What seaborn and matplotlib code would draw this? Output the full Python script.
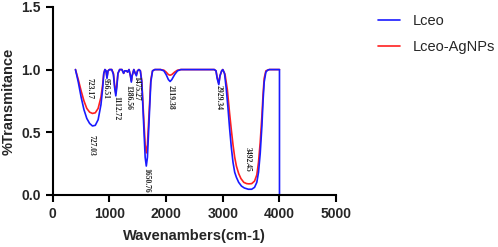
import pandas as pd
import matplotlib
matplotlib.use("Agg")
import matplotlib.pyplot as plt
import seaborn as sns

# FTIR spectra (wavenumber, %T)
wn_lceo = [400, 450, 500, 550, 600, 650, 700, 750, 800, 850, 880, 900, 920, 940, 956, 975,
           1000, 1040, 1070, 1090, 1112, 1130, 1150, 1180, 1220, 1250, 1270, 1300, 1320, 1345,
           1370, 1386, 1400, 1430, 1455, 1475, 1495, 1520, 1545, 1570, 1600, 1630, 1650, 1670,
           1700, 1730, 1760, 1800, 1900, 1960, 2000, 2040, 2070, 2100, 2150, 2200, 2260, 2850,
           2880, 2900, 2929, 2950, 2980, 3000, 3030, 3060, 3090, 3120, 3150, 3180, 3210, 3240,
           3280, 3330, 3380, 3450, 3510, 3560, 3600, 3630, 3660, 3690, 3710, 3730, 3760, 3790,
           3820, 4000, 4000]
t_lceo = [1.0, 0.90, 0.78, 0.68, 0.61, 0.57, 0.55, 0.555, 0.60, 0.72, 0.85, 0.97, 1.0, 0.99, 0.93, 0.99,
          1.0, 1.0, 0.96, 0.86, 0.79, 0.86, 0.97, 1.0, 1.0, 0.97, 0.99, 0.99, 0.98, 1.0,
          0.95, 0.90, 0.95, 1.0, 0.97, 0.95, 0.99, 1.0, 0.99, 0.90, 0.60, 0.30, 0.23, 0.30,
          0.60, 0.90, 0.99, 1.0, 1.0, 0.99, 0.96, 0.92, 0.905, 0.92, 0.96, 0.99, 1.0, 1.0,
          0.99, 0.93, 0.88, 0.95, 0.99, 1.0, 0.97, 0.85, 0.70, 0.53, 0.38, 0.26, 0.18, 0.14,
          0.10, 0.07, 0.055, 0.045, 0.045, 0.06, 0.10, 0.18, 0.33, 0.55, 0.75, 0.90, 0.98, 0.995,
          1.0, 1.0, 0.0]

wn_agnp = [400, 450, 500, 550, 600, 650, 700, 750, 800, 850, 880, 900, 920, 940, 956, 975,
           1000, 1040, 1070, 1090, 1112, 1130, 1150, 1180, 1220, 1250, 1270, 1300, 1320, 1345,
           1370, 1386, 1400, 1430, 1455, 1475, 1495, 1520, 1545, 1570, 1600, 1630, 1650, 1670,
           1700, 1730, 1760, 1800, 1900, 1960, 2000, 2040, 2070, 2100, 2150, 2200, 2260, 2850,
           2880, 2900, 2929, 2950, 2980, 3000, 3040, 3080, 3120, 3150, 3180, 3210, 3240, 3280,
           3320, 3370, 3420, 3460, 3510, 3560, 3600, 3630, 3660, 3690, 3710, 3730, 3760, 3790,
           3820, 4000]
t_agnp = [1.0, 0.92, 0.83, 0.75, 0.69, 0.66, 0.65, 0.655, 0.69, 0.78, 0.88, 0.97, 1.0, 0.99, 0.94, 0.99,
          1.0, 1.0, 0.97, 0.88, 0.81, 0.88, 0.97, 1.0, 1.0, 0.97, 0.99, 0.99, 0.98, 1.0,
          0.95, 0.91, 0.95, 1.0, 0.97, 0.96, 0.99, 1.0, 0.99, 0.91, 0.65, 0.40, 0.335, 0.40,
          0.66, 0.92, 0.99, 1.0, 1.0, 0.995, 0.98, 0.96, 0.955, 0.96, 0.98, 0.995, 1.0, 1.0,
          0.99, 0.94, 0.89, 0.95, 0.99, 1.0, 0.96, 0.84, 0.65, 0.52, 0.40, 0.30, 0.23, 0.17,
          0.13, 0.10, 0.09, 0.088, 0.09, 0.11, 0.16, 0.26, 0.42, 0.63, 0.80, 0.93, 0.99, 0.995,
          1.0, 1.0]

# peak labels: text, x position, top y
peak_txt = ["723.17", "727.03", "956.51", "1112.72", "1386.56", "1475.27",
            "1650.76", "2119.38", "2929.34", "3492.45"]
peak_x = [643, 690, 938, 1127, 1333, 1469, 1646, 2071, 2920, 3446]
peak_y = [0.93, 0.48, 0.93, 0.786, 0.88, 0.95, 0.216, 0.88, 0.88, 0.38]

df = pd.concat([
    pd.DataFrame({"wn": wn_agnp, "T": t_agnp, "sample": "Lceo-AgNPs"}),
    pd.DataFrame({"wn": wn_lceo, "T": t_lceo, "sample": "Lceo"}),
])

sns.set_style("ticks")
plt.rcParams["font.family"] = ["Liberation Sans", "DejaVu Sans"]

fig = plt.figure(figsize=(4.98, 2.47), dpi=100)
ax = fig.add_axes([0.106, 0.211, 0.569, 0.761])

sns.lineplot(data=df, x="wn", y="T", hue="sample", hue_order=["Lceo-AgNPs", "Lceo"],
             palette={"Lceo": "#1a1aff", "Lceo-AgNPs": "#ff2020"},
             estimator=None, sort=False, linewidth=1.2, ax=ax)

for txt, x, y in zip(peak_txt, peak_x, peak_y):
    ax.text(x, y, txt, rotation=270, ha="center", va="top", fontsize=5.5,
            family=["Liberation Serif", "DejaVu Serif"], fontweight="bold")

ax.set_xlim(0, 5000)
ax.set_ylim(0, 1.5)
ax.set_xticks([0, 1000, 2000, 3000, 4000, 5000])
ax.set_yticks([0.0, 0.5, 1.0, 1.5])
ax.set_yticklabels(["0.0", "0.5", "1.0", "1.5"])
ax.set_xlabel("Wavenambers(cm-1)", fontsize=10.5, fontweight="bold", labelpad=6)
ax.set_ylabel("%Transmitance", fontsize=10.5, fontweight="bold", labelpad=4)
for lbl in ax.get_xticklabels() + ax.get_yticklabels():
    lbl.set_fontweight("bold")
ax.tick_params(labelsize=10, width=1.5, length=5, color="black")
for s in ["left", "bottom"]:
    ax.spines[s].set_linewidth(1.5)
    ax.spines[s].set_color("black")
sns.despine(ax=ax)

handles, labels = ax.get_legend_handles_labels()
order = [labels.index("Lceo"), labels.index("Lceo-AgNPs")]
ax.legend([handles[i] for i in order], [labels[i] for i in order],
          loc="upper left", bbox_to_anchor=(378 / 498, 1 - 14 / 247),
          bbox_transform=fig.transFigure, frameon=False, fontsize=10.5,
          handlelength=1.5, handletextpad=0.9, labelspacing=0.8,
          borderpad=0, borderaxespad=0)

fig.savefig("out.png", dpi=100)
